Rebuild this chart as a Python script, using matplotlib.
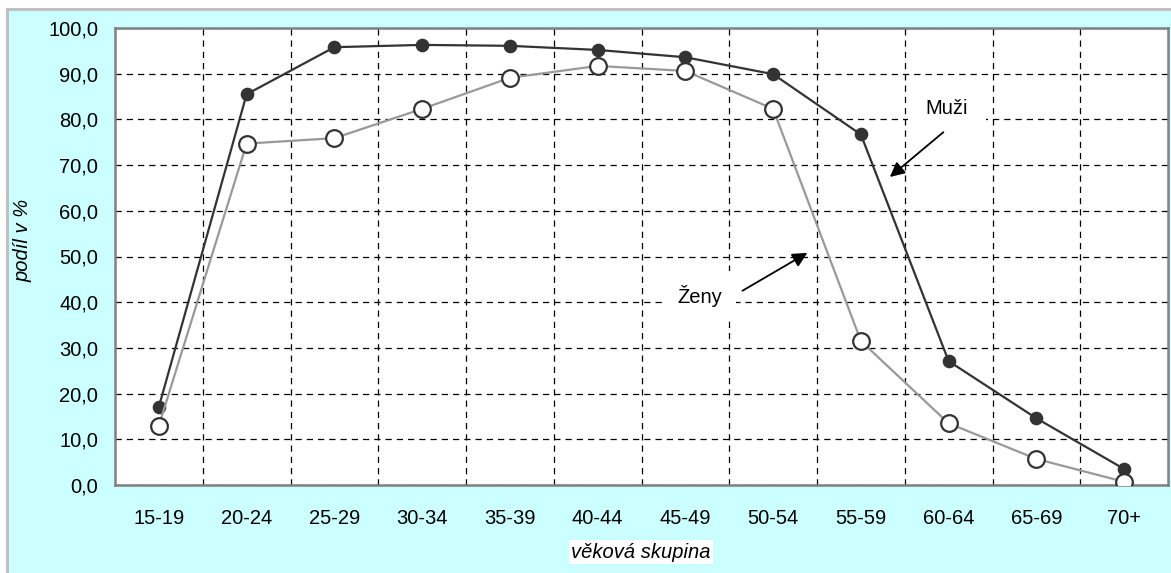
import matplotlib
matplotlib.use("Agg")
import matplotlib.pyplot as plt
from matplotlib.patches import Rectangle
from matplotlib.ticker import FixedLocator, FuncFormatter

categories = ["15-19", "20-24", "25-29", "30-34", "35-39", "40-44",
              "45-49", "50-54", "55-59", "60-64", "65-69", "70+"]
muzi = [17.1, 85.5, 95.8, 96.3, 96.1, 95.2, 93.6, 89.9, 76.7, 27.1, 14.6, 3.5]
zeny = [13.0, 74.7, 75.9, 82.3, 89.1, 91.7, 90.6, 82.3, 31.5, 13.5, 5.7, 0.7]
yticks = [0, 10, 20, 30, 40, 50, 60, 70, 80, 90, 100]

plt.rcParams['font.family'] = ['Liberation Sans', 'DejaVu Sans']
FS = 14.5

W, H = 1171, 573
fig = plt.figure(figsize=(W / 100, H / 100), dpi=100)
fig.patch.set_facecolor('white')

# outer cyan chart area with grey border
bg = Rectangle((7 / W, -0.05), 1.2, 1 - 9 / H + 0.05, transform=fig.transFigure,
               facecolor='#CCFFFF', edgecolor='#C0C0C0', linewidth=2.2, zorder=-10)
fig.patches.append(bg)

ax = fig.add_axes([115 / W, 1 - 485 / H, (1168 - 115) / W, (485 - 28) / H])
ax.set_facecolor('white')

x = list(range(len(categories)))
ax.plot(x, muzi, color='#333333', lw=1.6, marker='o', ms=8.8,
        markerfacecolor='#333333', markeredgecolor='#333333', zorder=4)
ax.plot(x, zeny, color='#999999', lw=1.6, marker='o', ms=12,
        markerfacecolor='white', markeredgecolor='#333333', mew=1.6, zorder=5)

ax.set_xlim(-0.5, len(categories) - 0.5)
ax.set_ylim(0, 100)
ax.set_xticks(x)
ax.set_xticklabels(categories, fontsize=FS)
ax.xaxis.set_minor_locator(FixedLocator([i + 0.5 for i in range(len(categories) - 1)]))
ax.set_yticks(yticks)
ax.yaxis.set_major_formatter(FuncFormatter(lambda v, p: f"{v:.1f}".replace('.', ',')))
ax.tick_params(axis='y', which='both', length=0, pad=12, labelsize=FS)
ax.tick_params(axis='x', which='major', length=0, pad=17, labelsize=FS)
ax.tick_params(axis='x', which='minor', length=0)

ax.grid(True, axis='y', which='major', color='black', ls=(0, (5, 4)), lw=0.9)
ax.grid(True, axis='x', which='minor', color='black', ls=(0, (5, 4)), lw=0.9)
ax.grid(False, axis='x', which='major')
ax.set_axisbelow(True)

for s in ax.spines.values():
    s.set_color('#808080')
    s.set_linewidth(1.8)

# labels with white boxes (below arrows)
ax.text(947 / W, 1 - 108 / H, 'Muži', fontsize=FS, ha='center', va='center',
        transform=fig.transFigure, zorder=5.5,
        bbox=dict(facecolor='white', edgecolor='none',
                  boxstyle='square,pad=0.9'))
ax.text(700 / W, 1 - 296 / H, 'Ženy', fontsize=FS, ha='center', va='center',
        transform=fig.transFigure, zorder=5.5,
        bbox=dict(facecolor='white', edgecolor='none',
                  boxstyle='square,pad=0.7'))

# arrows
ax.annotate('', xy=(8.33, 67.4), xytext=(8.94, 77.2),
            arrowprops=dict(arrowstyle='-|>', mutation_scale=22, lw=1.3, color='black',
                            shrinkA=0, shrinkB=0), zorder=6)
ax.annotate('', xy=(7.39, 50.8), xytext=(6.65, 42.5),
            arrowprops=dict(arrowstyle='-|>', mutation_scale=22, lw=1.3, color='black',
                            shrinkA=0, shrinkB=0), zorder=6)

fig.text(23 / W, 1 - 240 / H, 'podíl v %', fontsize=FS, style='italic',
         rotation=90, ha='center', va='center')
fig.text(641 / W, 1 - 552 / H, 'věková skupina', fontsize=FS, style='italic',
         ha='center', va='center',
         bbox=dict(facecolor='white', edgecolor='none', boxstyle='square,pad=0.1'))

fig.savefig('out.png', dpi=100)
